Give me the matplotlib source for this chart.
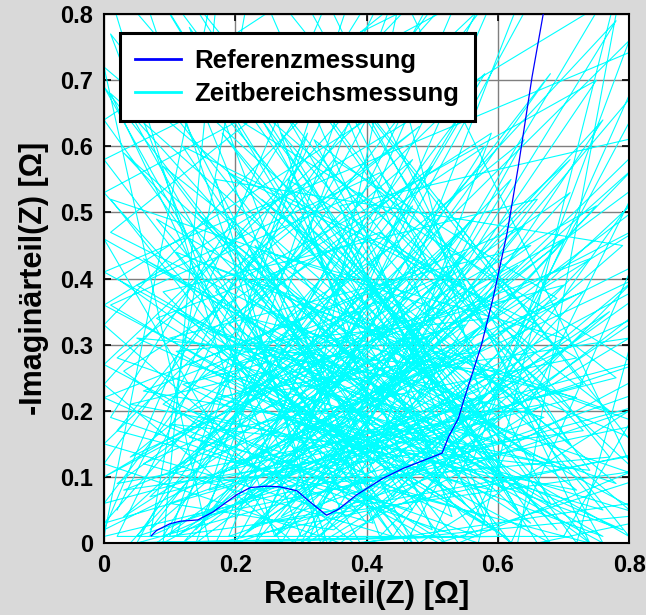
import matplotlib
matplotlib.use("Agg")
import matplotlib.pyplot as plt

plt.rcParams['font.family'] = ['Liberation Sans', 'DejaVu Sans']

# Referenzmessung (blue)
ref_re = [0.072, 0.080, 0.100, 0.116, 0.143, 0.166, 0.202, 0.223, 0.248, 0.268,
          0.294, 0.314, 0.339, 0.357, 0.385, 0.425, 0.456, 0.515, 0.525, 0.540,
          0.548, 0.558, 0.575, 0.593, 0.614, 0.631, 0.652, 0.669, 0.675]
ref_im = [0.011, 0.019, 0.029, 0.033, 0.035, 0.047, 0.073, 0.084, 0.086, 0.085,
          0.079, 0.062, 0.042, 0.051, 0.073, 0.098, 0.113, 0.136, 0.161, 0.189,
          0.216, 0.247, 0.300, 0.372, 0.469, 0.569, 0.705, 0.800, 0.850]

# Zeitbereichsmessung (cyan)
td_re = [0.02, 0.31, 0.11, 0.55, 0.04, 0.72, 0.23, 0.47, 0.09, 0.66, 0.35, 0.81, 0.14, 0.41, 0.00,
         0.58, 0.27, 0.76, 0.19, 0.50, 0.07, 0.39, 0.63, 0.01, 0.45, 0.29, 0.70, 0.12, 0.53, 0.36,
         0.84, 0.22, 0.60, 0.05, 0.43, 0.79, 0.17, 0.33, 0.67, 0.02, 0.49, 0.25, 0.74, 0.10, 0.57,
         0.30, 0.82, 0.15, 0.46, 0.61, 0.03, 0.38, 0.71, 0.21, 0.54, 0.08, 0.42, 0.77, 0.26, 0.64,
         0.13, 0.48, 0.00, 0.34, 0.69, 0.18, 0.56, 0.80, 0.28, 0.44, 0.06, 0.62, 0.37, 0.16, 0.73,
         0.51, 0.24, 0.85, 0.11, 0.40, 0.59, 0.03, 0.32, 0.75, 0.20, 0.52, 0.09, 0.65, 0.43, 0.01,
         0.27, 0.68, 0.14, 0.55, 0.36, 0.83, 0.22, 0.47, 0.05, 0.60, 0.31, 0.78, 0.17, 0.49, 0.02,
         0.40, 0.71, 0.24, 0.57, 0.10, 0.35, 0.81, 0.19, 0.62, 0.44, 0.07, 0.53, 0.29, 0.74, 0.13,
         0.46, 0.00, 0.38, 0.66, 0.23, 0.58, 0.08, 0.42, 0.77, 0.16, 0.50, 0.30, 0.64, 0.04, 0.34,
         0.70, 0.20, 0.55, 0.12, 0.45, 0.80, 0.26, 0.61, 0.01, 0.39, 0.73, 0.15, 0.52, 0.33, 0.68,
         0.06, 0.48, 0.21, 0.59, 0.11, 0.41, 0.76, 0.25, 0.63, 0.03, 0.37, 0.56, 0.18, 0.72, 0.28,
         0.50, 0.09, 0.44, 0.82, 0.23, 0.65, 0.14, 0.54, 0.32, 0.78, 0.07, 0.40, 0.60, 0.19, 0.47,
         0.02, 0.35, 0.69, 0.26, 0.57, 0.12, 0.43, 0.75, 0.21, 0.51, 0.04, 0.36, 0.67, 0.16, 0.58,
         0.30, 0.84, 0.10, 0.46, 0.63, 0.24, 0.41, 0.79, 0.15, 0.53, 0.00, 0.38, 0.71, 0.27, 0.56,
         0.08, 0.44, 0.66, 0.19, 0.49, 0.33, 0.74, 0.13, 0.59, 0.05, 0.42, 0.77, 0.22, 0.54, 0.31,
         0.62, 0.17, 0.48, 0.02, 0.39, 0.70, 0.25, 0.55, 0.11, 0.45, 0.81, 0.28, 0.64, 0.09, 0.36,
         0.60, 0.20, 0.52, 0.01, 0.40, 0.73, 0.14, 0.47, 0.32, 0.68, 0.06, 0.43, 0.58, 0.23, 0.65,
         0.10, 0.50, 0.27, 0.76, 0.17, 0.57, 0.03, 0.37, 0.72, 0.22, 0.46,
         0.00, 0.18, 0.09, 0.88, 0.30, 0.01, 0.62, 0.92, 0.44, 0.00, 0.71, 0.20, 0.86, 0.05, 0.53,
         0.00, 0.38, 0.90, 0.66, 0.12, 0.80, 0.00, 0.27, 0.79, 0.57, 0.01, 0.49, 0.14, 0.87, 0.72,
         0.03, 0.34, 0.91, 0.00, 0.60, 0.23, 0.85, 0.46, 0.00, 0.40, 0.10, 0.89, 0.51, 0.00, 0.66,
         0.31, 0.83, 0.07, 0.24, 0.76, 0.00, 0.94, 0.55, 0.16, 0.00, 0.86, 0.44, 0.02, 0.70, 0.97,
         0.36, 0.00, 0.58, 0.19, 0.88, 0.48, 0.00, 0.81, 0.63, 0.08, 0.92, 0.26, 0.00, 0.74, 0.34,
         0.00, 0.85, 0.42, 0.13, 0.68, 0.00, 0.90, 0.50, 0.04, 0.78, 0.29, 0.00, 0.64, 0.17, 0.93,
         0.54, 0.00, 0.39, 0.87, 0.22, 0.60, 0.00]
td_im = [0.05, 0.62, 0.01, 0.33, 0.21, 0.08, 0.45, 0.00, 0.38, 0.52, 0.12, 0.27, 0.68, 0.03, 0.15,
         0.71, 0.19, 0.01, 0.33, 0.57, 0.02, 0.29, 0.16, 0.47, 0.82, 0.07, 0.39, 0.24, 0.04, 0.51,
         0.62, 0.02, 0.26, 0.31, 0.14, 0.45, 0.55, 0.00, 0.21, 0.09, 0.43, 0.77, 0.11, 0.18, 0.01,
         0.36, 0.18, 0.04, 0.66, 0.08, 0.59, 0.22, 0.58, 0.12, 0.30, 0.72, 0.06, 0.35, 0.01, 0.48,
         0.27, 0.17, 0.03, 0.41, 0.02, 0.62, 0.12, 0.76, 0.25, 0.01, 0.12, 0.37, 0.69, 0.08, 0.24,
         0.52, 0.03, 0.14, 0.44, 0.10, 0.62, 0.26, 0.05, 0.51, 0.20, 0.00, 0.57, 0.13, 0.31, 0.68,
         0.14, 0.71, 0.02, 0.44, 0.18, 0.04, 0.37, 0.58, 0.01, 0.19, 0.48, 0.09, 0.30, 0.07, 0.40,
         0.64, 0.15, 0.52, 0.23, 0.06, 0.02, 0.40, 0.11, 0.55, 0.26, 0.85, 0.09, 0.33, 0.00, 0.16,
         0.40, 0.22, 0.05, 0.29, 0.66, 0.03, 0.34, 0.47, 0.20, 0.42, 0.15, 0.00, 0.61, 0.13, 0.27,
         0.46, 0.05, 0.39, 0.60, 0.10, 0.31, 0.23, 0.01, 0.36, 0.53, 0.17, 0.09, 0.28, 0.74, 0.06,
         0.43, 0.20, 0.01, 0.34, 0.29, 0.12, 0.64, 0.09, 0.42, 0.04, 0.35, 0.67, 0.17, 0.28, 0.55,
         0.02, 0.21, 0.45, 0.10, 0.30, 0.03, 0.50, 0.18, 0.61, 0.25, 0.07, 0.38, 0.11, 0.46, 0.05,
         0.17, 0.58, 0.37, 0.12, 0.50, 0.00, 0.23, 0.70, 0.40, 0.13, 0.65, 0.08, 0.19, 0.32, 0.60,
         0.16, 0.49, 0.11, 0.34, 0.05, 0.71, 0.19, 0.02, 0.25, 0.41, 0.10, 0.30, 0.53, 0.04, 0.21,
         0.49, 0.07, 0.33, 0.56, 0.27, 0.01, 0.43, 0.20, 0.08, 0.39, 0.56, 0.13, 0.08, 0.47, 0.26,
         0.00, 0.38, 0.63, 0.28, 0.15, 0.31, 0.44, 0.06, 0.35, 0.20, 0.57, 0.10, 0.25, 0.01, 0.45,
         0.15, 0.27, 0.35, 0.52, 0.03, 0.38, 0.14, 0.51, 0.20, 0.12, 0.23, 0.37, 0.04, 0.15, 0.45,
         0.31, 0.24, 0.62, 0.05, 0.22, 0.29, 0.08, 0.13, 0.22, 0.34, 0.12,
         0.01, 0.91, 0.00, 0.42, 0.01, 0.77, 0.00, 0.68, 0.01, 0.58, 0.93, 0.00, 0.22, 0.00, 0.88,
         0.33, 0.00, 0.05, 0.00, 0.84, 0.01, 0.46, 0.00, 0.87, 0.00, 0.19, 0.96, 0.00, 0.55, 0.00,
         0.92, 0.00, 0.30, 0.06, 0.84, 0.00, 0.73, 0.00, 0.64, 0.90, 0.01, 0.12, 0.00, 0.27, 0.89,
         0.00, 0.35, 0.01, 0.94, 0.00, 0.41, 0.80, 0.01, 0.00, 0.72, 0.00, 0.86, 0.01, 0.01, 0.47,
         0.00, 0.12, 0.92, 0.01, 0.25, 0.00, 0.53, 0.96, 0.00, 0.00, 0.62, 0.01, 0.86, 0.00, 0.82,
         0.02, 0.44, 0.01, 0.78, 0.00, 0.36, 0.90, 0.01, 0.00, 0.79, 0.00, 0.24, 0.95, 0.00, 0.16,
         0.00, 0.69, 0.00, 0.07, 0.88, 0.01, 0.00]

tick_x = [0, 0.2, 0.4, 0.6, 0.8]
tick_y = [0, 0.1, 0.2, 0.3, 0.4, 0.5, 0.6, 0.7, 0.8]

fig = plt.figure(figsize=(6.46, 6.15), dpi=100, facecolor='#d9d9d9')
ax = fig.add_axes([0.161, 0.117, 0.813, 0.860])
ax.set_facecolor('white')

ax.plot(ref_re, ref_im, color='#0000ff', lw=0.9, label='Referenzmessung', zorder=3)
ax.plot(td_re, td_im, color='#00ffff', lw=0.8, label='Zeitbereichsmessung', zorder=2)

ax.set_xlim(0, 0.8)
ax.set_ylim(0, 0.8)
ax.set_xticks(tick_x)
ax.set_yticks(tick_y)
ax.set_xticklabels(['0', '0.2', '0.4', '0.6', '0.8'])
ax.set_yticklabels(['0', '0.1', '0.2', '0.3', '0.4', '0.5', '0.6', '0.7', '0.8'])
ax.grid(True, color='#7f7f7f', lw=1.0, zorder=1)
ax.set_axisbelow(True)
ax.tick_params(direction='in', top=True, right=True, length=5, width=1.2,
               labelsize=17, pad=8)
for lab in ax.get_xticklabels() + ax.get_yticklabels():
    lab.set_fontweight('bold')
for s in ax.spines.values():
    s.set_linewidth(1.5)

ax.set_xlabel('Realteil(Z) [Ω]', fontsize=22.5, fontweight='bold', labelpad=2)
ax.set_ylabel('-Imaginärteil(Z) [Ω]', fontsize=22, fontweight='bold', labelpad=8)

leg = ax.legend(loc='upper left', bbox_to_anchor=(0.030, 0.964), borderaxespad=0,
                fancybox=False, framealpha=1, edgecolor='black',
                prop={'weight': 'bold', 'size': 18.5},
                handlelength=1.8, handletextpad=0.5, borderpad=0.6, labelspacing=0.35)
leg.get_frame().set_linewidth(2.2)
for line in leg.get_lines():
    line.set_linewidth(2.0)

fig.savefig('out.png', dpi=100, facecolor=fig.get_facecolor())
